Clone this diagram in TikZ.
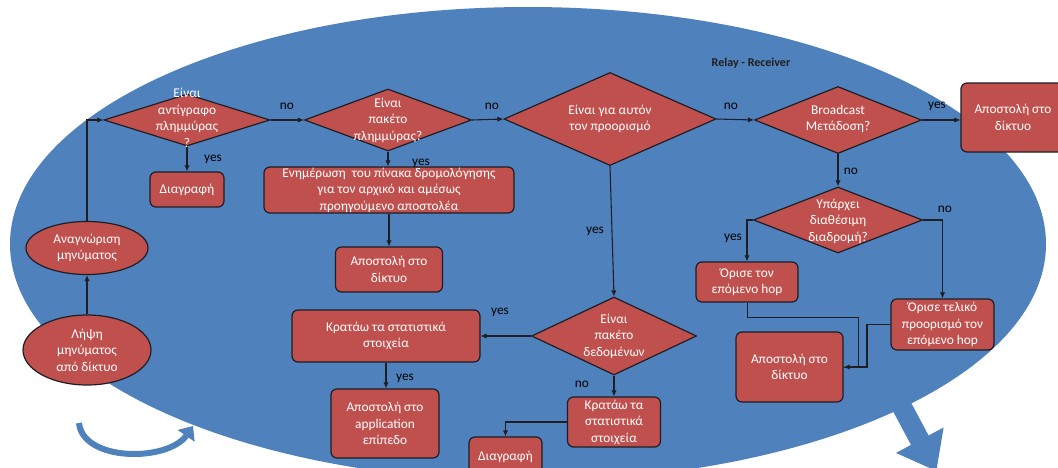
\documentclass[tikz,border=0pt]{standalone}
\usepackage{fontspec}
\setmainfont{Carlito}
\usetikzlibrary{shapes.geometric,arrows.meta}
\definecolor{ellblue}{HTML}{4F81BD}
\definecolor{nodered}{HTML}{C0504D}
\definecolor{edgec}{HTML}{1E1E24}
\begin{document}
\begin{tikzpicture}[x=0.75pt,y=-0.75pt,
  sz/.style 2 args={minimum width=#1*0.75pt, minimum height=#2*0.75pt},
  base/.style={fill=nodered, draw=edgec, line width=0.9pt, inner sep=0pt,
    text=white, font=\fontsize{10}{12.4}\selectfont, align=center},
  rbox/.style={base, rectangle, rounded corners=4.5pt},
  dia/.style={base, diamond},
  ell/.style={base, ellipse},
  txt/.style={text=white, font=\fontsize{10}{12.4}\selectfont, align=center, inner sep=0pt},
  lbl/.style={text=black, font=\fontsize{10}{12}\selectfont, inner sep=0pt},
  conn/.style={draw=edgec, line width=0.8pt, -{Latex[length=4.5pt,width=4pt]}},
  thinconn/.style={draw=edgec, line width=0.5pt},
]
\useasboundingbox (0,0) rectangle (1058,468);
\clip (0,0) rectangle (1058,468);
\fill[white] (0,0) rectangle (1058,468);

% background ellipse
\fill[ellblue] (528,244) ellipse [x radius=388.5pt, y radius=177.75pt];

% block arrows
\draw[ellblue, line width=4.5pt, -{Triangle[length=9pt,width=15pt]}]
  (79,423) .. controls (83,462) and (168,462) .. (193,426);
\fill[ellblue] (909.8,400.3) -- (928.6,435.5) -- (943.6,427.5) -- (936.3,471)
  -- (896,452.9) -- (911,444.9) -- (892.2,409.7) -- cycle;

% title
\node[text=black!88, font=\bfseries\fontsize{9}{11}\selectfont, inner sep=0pt] (title) at (751,63) {Relay - Receiver};

% left ellipses
\node[ell, sz={128}{70}] (rcv) at (87,350) {Λήψη\\μηνύματος\\από δίκτυο};
\node[ell, sz={122}{53}] (rec) at (87,248) {Αναγνώριση\\μηνύματος};

% diamonds
\node[dia, sz={166}{52}] (d1) at (187,120) {};
\node[txt] (d1t) at (187,118) {Είναι\\αντίγραφο\\πλημμύρας\\?};
\node[dia, sz={167}{62}] (d2) at (388,120) {};
\node[txt] (d2t) at (388,120) {Είναι\\πακέτο\\πλημμύρας?};
\node[dia, sz={212}{93}] (d3) at (610,119) {};
\node[txt] (d3t) at (610,119) {Είναι για αυτόν\\τον προορισμό};
\node[dia, sz={167}{67}] (d4) at (838,120) {};
\node[txt] (d4t) at (838,119) {Broadcast\\Μετάδοση?};
\node[dia, sz={169}{66}] (d6) at (838,220) {};
\node[txt] (d6t) at (838,221) {Υπάρχει\\διαθέσιμη\\διαδρομή?};
\node[dia, sz={165}{78}] (d5) at (614,336) {};
\node[txt] (d5t) at (614,336) {Είναι\\πακέτο\\δεδομένων};

% boxes
\node[rbox, sz={74}{35}] (del1) at (187,189.5) {Διαγραφή};
\node[rbox, sz={250}{46}] (upd) at (389,190) {Ενημέρωση\ \ του πίνακα δρομολόγησης\\για τον αρχικό και αμέσως\\προηγούμενο αποστολέα};
\node[rbox, sz={107}{45}] (send1) at (389,269.5) {Αποστολή στο\\δίκτυο};
\node[rbox, sz={188}{52}] (keep1) at (386,336) {Κρατάω τα στατιστικά\\στοιχεία};
\node[rbox, sz={108}{69}] (app) at (385,423.5) {Αποστολή στο\\application\\επίπεδο};
\node[rbox, sz={93}{50}] (keep2) at (614,422) {Κρατάω τα\\στατιστικά\\στοιχεία};
\node[rbox, sz={73}{40}] (del2) at (505.5,457) {Διαγραφή};
\node[rbox, sz={104}{69}] (sendtop) at (1013,117.5) {Αποστολή στο\\δίκτυο};
\node[rbox, sz={102}{40}] (hop1) at (747,282) {Όρισε τον\\επόμενο hop};
\node[rbox, sz={103}{51}] (hop2) at (942.5,324.5) {Όρισε τελικό\\προορισμό τον\\επόμενο hop};
\node[rbox, sz={107}{70}] (send3) at (789.5,367) {Αποστολή στο\\δίκτυο};

% connectors
\draw[conn] (rcv) -- (rec);
\draw[conn] (rec.north) |- (d1.west);
\draw[conn] (d1.south) -- (d1.south |- del1.north);
\draw[conn] (d1.east) -- (d2.west);
\draw[conn] (d2.south) -- (d2.south |- upd.north);
\draw[conn] (d2.east) -- (d3.west);
\draw[conn] (d3.east) -- (d4.west);
\draw[conn] (d4.east) -- (d4.east -| sendtop.west);
\draw[conn] (d4.south) -- (d6.north);
\draw[conn] (d6.west) -| (hop1.north);
\draw[conn] (d6.east) -| (hop2.north);
\draw[conn] (upd.south) -- (upd.south |- send1.north);
\draw[conn] (d3.south) -- (d5.north);
\draw[conn] (d5.west) -- (d5.west -| keep1.east);
\draw[conn] (keep1.south) -- (keep1.south |- app.north);
\draw[conn] (d5.south) -- (d5.south |- keep2.north);
\draw[conn] (keep2.west) -| (del2.north);
\coordinate (m1) at (858,317);
\coordinate (m2) at (867,0);
\draw[thinconn] (hop1.south) |- (m1) |- (send3.east);
\draw[conn] (hop2.west) -- (hop2.west -| m2) |- (send3.east);

% labels
\node[lbl] (n1) at (287,106) {no};
\node[lbl] (n2) at (492,106) {no};
\node[lbl] (n3) at (731,106) {no};
\node[lbl] (y4) at (937,106) {yes};
\node[lbl] (y1) at (213,159) {yes};
\node[lbl] (y2) at (421,163) {yes};
\node[lbl] (n4) at (851,171) {no};
\node[lbl] (n6) at (945,209) {no};
\node[lbl] (y6) at (733,238) {yes};
\node[lbl] (y3) at (595,231) {yes};
\node[lbl] (y5) at (500,312) {yes};
\node[lbl] (y7) at (405,378) {yes};
\node[lbl] (n5) at (582,384) {no};
\end{tikzpicture}
\end{document}
